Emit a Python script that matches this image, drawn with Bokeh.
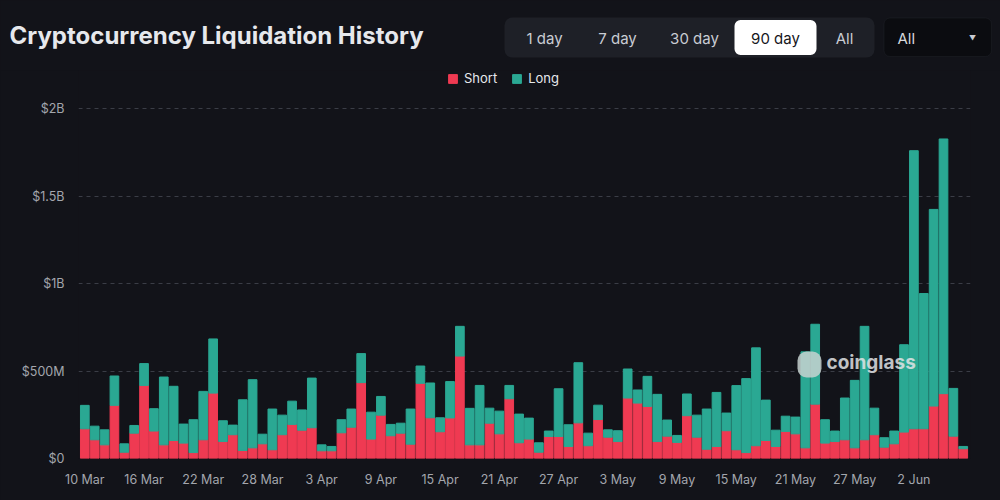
import pandas as pd
from bokeh.plotting import figure
from bokeh.layouts import column
from bokeh.models import (ColumnDataSource, Range1d, FixedTicker, Legend, LegendItem,
                          Label, BoxAnnotation)
from bokeh.embed import file_html
from bokeh.resources import INLINE

# ---- data (USD millions per day) ----
start_day = "2025-03-10"
short_liq = [170, 107, 78, 304, 36, 145, 418, 157, 78, 103,
             88, 34, 107, 374, 97, 136, 46, 61, 84, 50,
             136, 195, 162, 176, 44, 44, 147, 179, 434, 111,
             248, 130, 145, 82, 430, 233, 153, 232, 586, 78,
             78, 202, 141, 342, 90, 111, 36, 126, 126, 69,
             204, 73, 223, 122, 97, 346, 317, 298, 97, 128,
             92, 245, 122, 53, 69, 159, 50, 34, 73, 103,
             69, 155, 141, 61, 311, 88, 97, 107, 61, 107,
             136, 65, 84, 151, 170, 170, 300, 371, 128, 56]
long_liq = [134, 78, 86, 168, 48, 44, 125, 128, 388, 310,
            109, 188, 277, 310, 119, 55, 290, 390, 55, 233,
            112, 133, 116, 284, 34, 25, 75, 104, 166, 154,
            107, 65, 57, 201, 99, 199, 80, 208, 170, 209,
            340, 86, 130, 76, 164, 120, 54, 31, 273, 124,
            344, 72, 82, 42, 62, 166, 75, 172, 270, 92,
            40, 124, 126, 230, 309, 101, 367, 423, 560, 231,
            93, 87, 96, 549, 457, 134, 60, 239, 386, 649,
            152, 54, 73, 500, 1591, 774, 1125, 1457, 273, 13]
y_ticks = [0, 500, 1000, 1500, 2000]
y_tick_labels = ["$0", "$500M", "$1B", "$1.5B", "$2B"]
range_buttons = ["1 day", "7 day", "30 day", "90 day", "All"]
selected_range = "90 day"
series_names = ["Short", "Long"]

dates = pd.date_range(start_day, periods=len(short_liq), freq="D")
day = list(range(len(dates)))
source = ColumnDataSource(dict(day=day, short=short_liq, long=long_liq))

# ---- style ----
BG = "#121319"
RED = "#ef3a52"
TEAL = "#2aa893"
TEXT = "#e6e8ec"
MUTED = "#a3a6ad"
FONT = "Inter"

W, H = 1000, 500
HEAD_H = 70                       # header strip height
FL, FR, FB = 78, 970, 458         # chart frame edges in page pixels
DAY_PX = 9.87
PX_PER_M = 0.1748


def label(fig, x, y, s, size, color, align="left", style="normal", alpha=1.0):
    # y is the wanted baseline; lift by the renderer's descent offset
    fs = float(size.rstrip("px"))
    fig.add_layout(Label(x=x, y=y + 0.37 * fs, x_units="screen", y_units="screen", text=s,
                         text_font=FONT, text_font_size=size, text_color=color,
                         text_font_style=style, text_align=align,
                         text_baseline="alphabetic", text_alpha=alpha))


def rbox(fig, l, t, r, b, fill, radius, line=None, alpha=1.0, level="underlay"):
    fig.add_layout(BoxAnnotation(left=l, right=r, top=t, bottom=b,
                                 left_units="screen", right_units="screen",
                                 top_units="screen", bottom_units="screen",
                                 fill_color=fill, fill_alpha=alpha,
                                 line_color=line if line else None,
                                 border_radius=radius, level=level))


# ---- header strip: title and range selector ----
head = figure(width=W, height=HEAD_H, output_backend="svg", toolbar_location=None,
              x_range=Range1d(0, W), y_range=Range1d(0, HEAD_H),
              x_axis_location=None, y_axis_location=None,
              min_border=0, background_fill_color=BG, border_fill_color=BG,
              outline_line_color=None)
head.title.visible = False
head.grid.visible = False
head.frame_align = False


def hy(py):  # page y -> header screen y (measured up from bottom)
    return HEAD_H - py


label(head, 9, hy(43.5), "Cryptocurrency Liquidation History", "24px", TEXT, style="bold")

rbox(head, 504, hy(17), 874, hy(57), "#1e2027", 8)
rbox(head, 734, hy(19.5), 816, hy(54.5), "#ffffff", 6)
btn_x = [544, 617, 694, 775, 844]
for cx, s in zip(btn_x, range_buttons):
    label(head, cx, hy(43.5), s, "15px", "#16171c" if s == selected_range else "#c9ccd3",
          align="center")

rbox(head, 883.5, hy(17.5), 991, hy(56), "#0b0c10", 6, line="#2b2e36")
label(head, 897, hy(43.5), "All", "15px", "#d6d8dd")
label(head, 972, hy(40.5), "\u25BC", "7px", "#c9ccd3", align="center")

# ---- main chart ----
x0 = -0.64
p = figure(width=W, height=H - HEAD_H, output_backend="svg", toolbar_location=None,
           x_range=Range1d(x0, x0 + (FR - FL) / DAY_PX),
           y_range=Range1d(0, (FB - HEAD_H) / PX_PER_M),
           min_border_left=FL, min_border_right=W - FR,
           min_border_top=0, min_border_bottom=H - FB,
           background_fill_color=BG, border_fill_color=BG,
           outline_line_color=None)
p.title.visible = False
p.frame_align = False

bars = p.vbar_stack(["short", "long"], x="day", width=0.88, source=source,
                    color=[RED, TEAL])

p.yaxis.ticker = FixedTicker(ticks=y_ticks)
p.yaxis.major_label_overrides = dict(zip(y_ticks, y_tick_labels))
p.xaxis.ticker = FixedTicker(ticks=day[::6])
p.xaxis.major_label_overrides = {i: f"{d.day} {d:%b}" for i, d in zip(day, dates) if i % 6 == 0}
for ax in (p.xaxis, p.yaxis):
    ax.axis_line_color = None
    ax.major_tick_line_color = None
    ax.minor_tick_line_color = None
    ax.major_label_text_color = MUTED
    ax.major_label_text_font = FONT
    ax.major_label_text_font_size = "12.5px"
p.yaxis.major_label_standoff = 8
p.xaxis.major_label_standoff = 7

p.xgrid.grid_line_color = None
p.ygrid.grid_line_color = "#3a3d46"
p.ygrid.grid_line_dash = "4 4"
p.ygrid.grid_line_width = 1


def fx(px):  # page x -> chart frame screen x
    return px - FL


def fy(py):  # page y -> chart frame screen y (up from frame bottom)
    return FB - py


legend = Legend(items=[LegendItem(label=series_names[0], renderers=[bars[0]]),
                       LegendItem(label=series_names[1], renderers=[bars[1]])],
                orientation="horizontal", location=(fx(447), fy(86)),
                glyph_width=11, glyph_height=11, label_height=11, label_standoff=6,
                spacing=14, padding=0, margin=0,
                background_fill_alpha=0, border_line_alpha=0,
                label_text_color=TEXT, label_text_font=FONT,
                label_text_font_size="13px")
p.add_layout(legend)

# watermark
rbox(p, fx(797), fy(351), fx(821), fy(377), "#c7d2d0", 9, alpha=0.85, level="annotation")
label(p, fx(826), fy(369), "coinglass", "19px", "#e2e4e6", style="bold", alpha=0.85)

layout = column(head, p, spacing=0, styles={"background-color": BG})
open("out.html", "w").write(file_html(layout, INLINE))
